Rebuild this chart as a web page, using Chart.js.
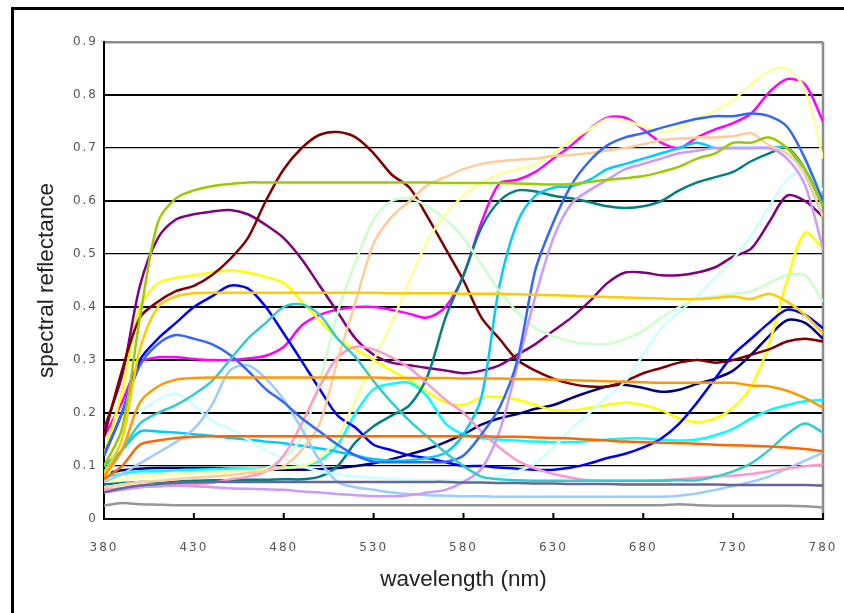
<!DOCTYPE html>
<html>
<head>
<meta charset="utf-8">
<title>spectral reflectance</title>
<script src="https://cdn.jsdelivr.net/npm/chart.js@4.4.1/dist/chart.umd.min.js"></script>
<style>
  html, body { margin: 0; padding: 0; background: #fff; }
</style>
</head>
<body>
<canvas id="myChart" width="844" height="613"></canvas>
<script>
// wavelengths (nm), one value every 10 nm
var wavelengths = [380, 390, 400, 410, 420, 430, 440, 450, 460, 470,
                   480, 490, 500, 510, 520, 530, 540, 550, 560, 570,
                   580, 590, 600, 610, 620, 630, 640, 650, 660, 670,
                   680, 690, 700, 710, 720, 730, 740, 750, 760, 770, 780]

var xTicks = [380, 430, 480, 530, 580, 630, 680, 730, 780]
var yTicks = [0, 0.1, 0.2, 0.3, 0.4, 0.5, 0.6, 0.7, 0.8, 0.9]

// reflectance curves
var navy = [.085, .092, .095, .096, .096, .096, .096, .095, .094, .093, .093, .093, .094, .096, .100, .105, .113, .122, .132, .145, .160, .178, .190, .198, .208, .215, .228, .240, .250, .253, .247, .240, .244, .255, .265, .280, .310, .345, .375, .370, .340]
var magenta = [.155, .220, .295, .305, .305, .302, .300, .300, .303, .308, .325, .365, .385, .395, .400, .400, .395, .387, .380, .400, .460, .560, .633, .640, .655, .680, .705, .735, .757, .757, .735, .710, .700, .720, .735, .747, .765, .805, .830, .820, .750]
var yellow = [.120, .240, .400, .445, .455, .460, .465, .470, .465, .457, .445, .410, .375, .340, .320, .300, .280, .262, .240, .220, .215, .230, .230, .225, .215, .205, .205, .210, .215, .220, .215, .205, .190, .183, .190, .210, .250, .330, .450, .540, .510]
var cyan = [.080, .085, .090, .090, .092, .093, .094, .095, .095, .096, .097, .100, .110, .140, .200, .245, .255, .257, .230, .180, .160, .153, .150, .148, .146, .145, .145, .147, .150, .152, .152, .150, .148, .150, .158, .170, .190, .205, .215, .222, .225]
var purple = [.170, .270, .440, .530, .565, .575, .580, .583, .575, .555, .530, .490, .440, .390, .340, .310, .295, .290, .285, .280, .275, .280, .290, .310, .330, .355, .380, .410, .445, .465, .465, .460, .460, .465, .475, .495, .510, .560, .610, .600, .570]
var maroon = [.155, .280, .380, .410, .430, .440, .460, .490, .530, .600, .660, .700, .725, .730, .720, .690, .650, .625, .570, .510, .450, .380, .340, .300, .280, .265, .255, .250, .250, .260, .275, .285, .295, .300, .295, .300, .310, .320, .335, .340, .335]
var teal = [.065, .068, .070, .070, .071, .072, .073, .073, .074, .074, .075, .075, .080, .100, .145, .175, .195, .215, .270, .380, .460, .550, .600, .620, .618, .610, .605, .598, .590, .587, .590, .600, .620, .635, .645, .655, .675, .690, .700, .660, .590]
var blue = [.120, .200, .300, .340, .370, .400, .420, .440, .435, .400, .350, .298, .245, .195, .172, .140, .130, .120, .115, .107, .100, .100, .097, .095, .093, .093, .097, .105, .115, .123, .135, .152, .180, .220, .265, .310, .340, .370, .395, .385, .360]
var skyBlue = [.100, .130, .165, .165, .163, .160, .157, .153, .150, .146, .143, .138, .133, .127, .120, .113, .110, .111, .115, .125, .160, .230, .440, .560, .610, .625, .628, .640, .660, .670, .680, .690, .700, .710, .700, .700, .700, .700, .700, .650, .570]
var lightCyan = [.070, .130, .200, .225, .237, .215, .185, .170, .150, .130, .115, .100, .090, .085, .080, .078, .075, .074, .073, .073, .073, .075, .080, .090, .105, .135, .170, .200, .230, .260, .310, .360, .390, .420, .455, .490, .535, .590, .640, .660, .620]
var lightGreen = [.060, .065, .070, .072, .075, .078, .080, .082, .088, .095, .115, .155, .260, .390, .485, .565, .600, .605, .590, .565, .530, .480, .430, .390, .360, .345, .335, .330, .330, .340, .355, .380, .400, .415, .420, .425, .430, .445, .460, .460, .410]
var lightYellow = [.070, .075, .080, .082, .085, .087, .088, .090, .092, .094, .096, .100, .115, .155, .225, .300, .370, .450, .525, .575, .610, .635, .650, .660, .670, .690, .715, .735, .755, .752, .740, .730, .737, .755, .770, .790, .820, .845, .850, .810, .680]
var paleBlue = [.070, .085, .105, .125, .145, .170, .215, .280, .290, .265, .225, .170, .110, .070, .060, .055, .050, .047, .045, .044, .043, .043, .042, .042, .042, .042, .042, .042, .042, .042, .042, .042, .044, .048, .055, .062, .070, .080, .095, .110, .125]
var rose = [.055, .058, .060, .062, .063, .065, .068, .075, .080, .090, .120, .180, .250, .305, .325, .320, .305, .285, .255, .225, .200, .165, .135, .110, .095, .085, .078, .073, .072, .072, .072, .073, .075, .078, .080, .082, .085, .090, .095, .100, .103]
var lavender = [.050, .055, .060, .062, .063, .062, .060, .058, .057, .056, .055, .052, .050, .047, .045, .043, .043, .045, .050, .055, .070, .095, .165, .290, .420, .530, .595, .620, .640, .660, .670, .680, .690, .695, .700, .700, .700, .700, .680, .630, .510]
var tan = [.060, .065, .070, .072, .075, .078, .080, .083, .087, .090, .100, .130, .180, .300, .410, .520, .570, .600, .630, .645, .660, .670, .675, .678, .680, .685, .687, .690, .695, .700, .707, .715, .718, .720, .720, .722, .728, .705, .690, .650, .570]
var lightBlue = [.120, .200, .290, .330, .347, .340, .330, .310, .280, .245, .220, .190, .165, .140, .120, .108, .107, .107, .107, .108, .120, .160, .210, .300, .470, .560, .630, .675, .705, .720, .728, .738, .747, .755, .760, .760, .765, .760, .740, .680, .600]
var aqua = [.090, .130, .180, .200, .215, .235, .260, .300, .340, .370, .400, .405, .385, .340, .305, .260, .220, .185, .155, .125, .100, .080, .075, .073, .072, .072, .072, .072, .072, .072, .072, .072, .073, .073, .080, .090, .105, .130, .160, .180, .163]
var lime = [.100, .170, .380, .560, .605, .620, .628, .632, .635, .635, .635, .635, .635, .635, .635, .635, .635, .635, .635, .634, .634, .634, .634, .633, .632, .631, .632, .636, .640, .643, .647, .655, .665, .680, .690, .710, .710, .720, .700, .660, .590]
var gold = [.085, .150, .320, .400, .420, .426, .427, .427, .427, .427, .427, .427, .427, .427, .427, .427, .426, .426, .426, .426, .425, .425, .425, .424, .423, .422, .421, .420, .419, .418, .417, .416, .415, .415, .417, .420, .415, .425, .410, .385, .350]
var lightOrange = [.080, .130, .220, .250, .263, .266, .267, .267, .267, .267, .267, .267, .267, .267, .267, .267, .266, .266, .266, .266, .265, .265, .265, .264, .264, .263, .262, .261, .260, .259, .258, .257, .257, .257, .257, .257, .252, .250, .242, .228, .210]
var orange = [.075, .100, .140, .148, .153, .155, .156, .156, .156, .156, .156, .156, .156, .156, .156, .156, .156, .156, .156, .156, .156, .156, .155, .155, .154, .153, .152, .150, .148, .146, .145, .144, .143, .142, .140, .139, .138, .137, .135, .132, .128]
var blueGray = [.050, .058, .063, .066, .068, .069, .070, .070, .070, .070, .070, .070, .070, .070, .070, .070, .070, .070, .070, .070, .069, .069, .068, .068, .067, .067, .066, .066, .066, .065, .065, .065, .065, .065, .065, .064, .064, .064, .064, .064, .063]
var gray = [.025, .030, .028, .027, .026, .026, .026, .026, .026, .026, .026, .026, .026, .026, .026, .026, .026, .026, .026, .026, .026, .026, .026, .026, .026, .026, .026, .026, .026, .026, .026, .026, .028, .026, .025, .025, .025, .025, .025, .024, .022]

// series in the spreadsheet's order, with its default line colours
var series = [
    [navy, '#000080'], [magenta, '#FF00FF'], [yellow, '#FFFF00'], [cyan, '#00FFFF'],
    [purple, '#800080'], [maroon, '#800000'], [teal, '#008080'], [blue, '#0000FF'],
    [skyBlue, '#00CCFF'], [lightCyan, '#CCFFFF'], [lightGreen, '#CCFFCC'], [lightYellow, '#FFFF99'],
    [paleBlue, '#99CCFF'], [rose, '#FF99CC'], [lavender, '#CC99FF'], [tan, '#FFCC99'],
    [lightBlue, '#3366FF'], [aqua, '#33CCCC'], [lime, '#99CC00'], [gold, '#FFCC00'],
    [lightOrange, '#FF9900'], [orange, '#FF6600'], [blueGray, '#666699'], [gray, '#969696']
]

var datasets = series.map(function (s, i) {
    return {
        data: wavelengths.map(function (w, j) { return { x: w, y: s[0][j] } }),
        borderColor: s[1],
        borderWidth: 2.5,
        pointRadius: 0,
        fill: false,
        tension: 0.3,
        order: -i
    }
})

var thickLines = [2, 3, 4, 6, 8]

var framePlugin = {
    id: 'frame',
    beforeDraw: function (chart) {
        var ctx = chart.ctx
        ctx.save()
        ctx.fillStyle = '#fff'
        ctx.fillRect(0, 0, chart.width, chart.height)
        ctx.strokeStyle = '#000'
        ctx.lineWidth = 3
        ctx.beginPath()
        ctx.moveTo(12.5, chart.height)
        ctx.lineTo(12.5, 8.5)
        ctx.lineTo(chart.width, 8.5)
        ctx.stroke()
        ctx.restore()
    },
    beforeDatasetsDraw: function (chart) {
        var a = chart.chartArea, ctx = chart.ctx, xs = chart.scales.x
        ctx.save()
        // grey right edge of the plot
        ctx.strokeStyle = '#8c8c8c'
        ctx.lineWidth = 2.5
        ctx.beginPath()
        ctx.moveTo(a.right, a.top)
        ctx.lineTo(a.right, a.bottom)
        ctx.stroke()
        // tick marks pointing into the plot
        ctx.strokeStyle = '#000'
        ctx.lineWidth = 2
        xs.ticks.forEach(function (t) {
            var px = xs.getPixelForValue(t.value)
            ctx.beginPath()
            ctx.moveTo(px, a.bottom)
            ctx.lineTo(px, a.bottom - 6)
            ctx.stroke()
        })
        ctx.restore()
    },
    afterDatasetsDraw: function (chart) {
        // tick labels are drawn after this, spaced out like the original
        chart.ctx.letterSpacing = '2px'
    },
    afterDraw: function (chart) {
        chart.ctx.letterSpacing = '0px'
    }
}

new Chart('myChart', {
    type: 'line',
    data: { datasets: datasets },
    options: {
        responsive: false,
        animation: false,
        devicePixelRatio: 1,
        layout: { padding: { top: 42, right: 21, bottom: 0, left: 0 } },
        plugins: { legend: { display: false }, tooltip: { enabled: false } },
        scales: {
            x: {
                type: 'linear',
                min: xTicks[0],
                max: xTicks[xTicks.length - 1],
                afterBuildTicks: function (s) { s.ticks = xTicks.map(function (v) { return { value: v } }) },
                afterFit: function (s) {
                    s.height = 94
                    s.paddingLeft = 0
                    s.paddingRight = 0
                },
                ticks: { color: '#555', font: { family: 'DejaVu Sans', size: 12 }, padding: 22, maxRotation: 0, z: 1 },
                grid: { display: true, drawOnChartArea: false, drawTicks: false },
                border: { color: '#000', width: 2 },
                title: {
                    display: true, text: 'wavelength (nm)', color: '#222',
                    font: { family: 'Liberation Sans', size: 22.5 }, padding: { top: 0, bottom: 20 }
                }
            },
            y: {
                min: yTicks[0],
                max: yTicks[yTicks.length - 1],
                afterBuildTicks: function (s) { s.ticks = yTicks.map(function (v) { return { value: v } }) },
                afterFit: function (s) { s.width = 104 },
                ticks: { color: '#555', font: { family: 'DejaVu Sans', size: 12 }, padding: 6, z: 1 },
                grid: {
                    drawTicks: false,
                    color: function (c) { return Math.round(c.tick.value * 10) === 9 ? '#8c8c8c' : '#000' },
                    lineWidth: function (c) {
                        var v = Math.round(c.tick.value * 10)
                        if (v === 9) return 2.5
                        return thickLines.indexOf(v) >= 0 ? 2 : 1.3
                    }
                },
                border: { color: '#000', width: 2 },
                title: {
                    display: true, text: 'spectral reflectance', color: '#222',
                    font: { family: 'Liberation Sans', size: 22.5 }, padding: { top: 33, bottom: 0 }
                }
            }
        }
    },
    plugins: [framePlugin]
})
</script>
</body>
</html>
